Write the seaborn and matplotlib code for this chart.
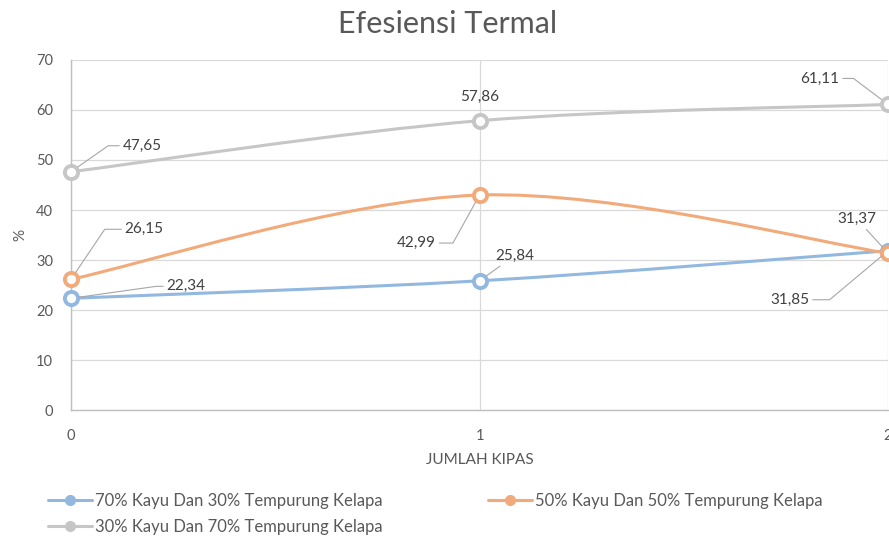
import numpy as np
import pandas as pd
import matplotlib
matplotlib.use("Agg")
import matplotlib.pyplot as plt
from matplotlib.path import Path
from matplotlib.patches import PathPatch
from matplotlib.lines import Line2D
import seaborn as sns

# ── data ───────────────────────────────────────────────────────────────────────
jumlah_kipas = [0, 1, 2]
series_names = [
    "70% Kayu Dan 30% Tempurung Kelapa",
    "50% Kayu Dan 50% Tempurung Kelapa",
    "30% Kayu Dan 70% Tempurung Kelapa",
]
eff_70_30 = [22.34, 25.84, 31.85]
eff_50_50 = [26.15, 42.99, 31.37]
eff_30_70 = [47.65, 57.86, 61.11]
series_values = [eff_70_30, eff_50_50, eff_30_70]
colors = ["#92B8E0", "#F2AA7A", "#C6C6C6"]

df = pd.DataFrame({
    "Jumlah Kipas": jumlah_kipas * 3,
    "Efisiensi": eff_70_30 + eff_50_50 + eff_30_70,
    "Campuran": [n for n in series_names for _ in jumlah_kipas],
})

# label placement (offset in pixels from the point, leader angle / style)
label_offsets = {
    (0, 0): ((115, 12), 8), (0, 1): ((35, 25), "straight"), (0, 2): ((-98, -49), 40),
    (1, 0): ((73, 50), 56), (1, 1): ((-63, -48), 61), (1, 2): ((-31, 34), "straight"),
    (2, 0): ((71, 26), 35), (2, 1): ((0, 24), None), (2, 2): ((-68, 26), 143),
}

TEXT = "#595959"
sns.set_theme(style="white")
plt.rcParams["font.family"] = ["Lato", "DejaVu Sans"]

fig = plt.figure(figsize=(8.89, 5.39), dpi=100)
ax = fig.add_axes([0.0799, 0.2393, 0.9190, 0.6494])


def smooth_path(xs, ys):
    """Excel-like smoothed line as cubic Bezier (Catmull-Rom control points)."""
    pts = np.column_stack([xs, ys]).astype(float)
    n = len(pts)
    verts = [pts[0]]
    codes = [Path.MOVETO]
    for i in range(n - 1):
        p_prev = pts[max(i - 1, 0)]
        p_next = pts[min(i + 2, n - 1)]
        c1 = pts[i] + (pts[i + 1] - p_prev) / 6
        c2 = pts[i + 1] - (p_next - pts[i]) / 6
        verts += [c1, c2, pts[i + 1]]
        codes += [Path.CURVE4] * 3
    return Path(verts, codes)


for k, (name, color) in enumerate(zip(series_names, colors)):
    sub = df[df["Campuran"] == name]
    ax.add_patch(PathPatch(smooth_path(sub["Jumlah Kipas"], sub["Efisiensi"]),
                           facecolor="none", edgecolor=color, lw=2.2, zorder=3))
    sns.lineplot(data=sub, x="Jumlah Kipas", y="Efisiensi", ax=ax, lw=0,
                 marker="o", markersize=9.5, markerfacecolor="white",
                 markeredgecolor=color, markeredgewidth=2.8, color=color,
                 zorder=4, clip_on=False, legend=False)

# data labels
for k, vals in enumerate(series_values):
    for i, (x, y) in enumerate(zip(jumlah_kipas, vals)):
        (dx, dy), ang = label_offsets[(k, i)]
        txt = f"{y:.2f}".replace(".", ",")
        arrow = None
        if ang == "straight":
            arrow = dict(arrowstyle="-", color="#A6A6A6", lw=0.8, shrinkA=0, shrinkB=6)
        elif ang is not None:
            arrow = dict(arrowstyle="-", color="#A6A6A6", lw=0.8, shrinkA=0, shrinkB=6,
                         connectionstyle=f"angle,angleA=0,angleB={ang},rad=0")
        ax.annotate(txt, xy=(x, y), xytext=(dx, dy), textcoords="offset pixels",
                    ha="center", va="center", fontsize=11, color="#404040",
                    arrowprops=arrow, zorder=5, annotation_clip=False)

ax.set_xlim(0, 2)
ax.set_ylim(0, 70)
ax.set_xticks(jumlah_kipas)
ax.set_yticks(range(0, 71, 10))
ax.grid(True, color="#D9D9D9", lw=0.9)
ax.set_axisbelow(True)
for side in ["top", "right"]:
    ax.spines[side].set_visible(False)
for side in ["left", "bottom"]:
    ax.spines[side].set_color("#BFBFBF")
    ax.spines[side].set_linewidth(1.0)
ax.tick_params(axis="both", length=0, labelsize=10.5, labelcolor=TEXT)
ax.tick_params(axis="x", pad=14)
ax.tick_params(axis="y", pad=13)
ax.set_xlabel("JUMLAH KIPAS", fontsize=11, color=TEXT, labelpad=7)
ax.set_ylabel("%", fontsize=11, color=TEXT, labelpad=6)

fig.suptitle("Efesiensi Termal", x=0.503, y=0.982, fontsize=22, color=TEXT)

handles = [Line2D([], [], color=c, lw=2.2, marker="o", markersize=7,
                  markerfacecolor=c, markeredgecolor=c) for c in colors]
order = [0, 2, 1]
fig.legend([handles[i] for i in order], [series_names[i] for i in order],
           loc="center left", bbox_to_anchor=(0.054, 0.047), ncol=2, frameon=False,
           fontsize=12, handlelength=2.64, handletextpad=0.2, borderpad=0,
           borderaxespad=0, columnspacing=6.3, labelspacing=0.62, labelcolor=TEXT)

fig.savefig("out.png", dpi=100)
